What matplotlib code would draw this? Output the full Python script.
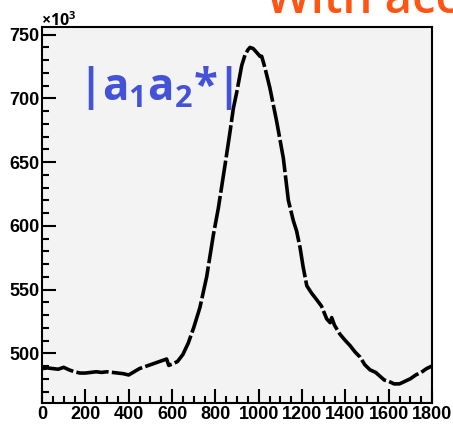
import numpy as np
import matplotlib
matplotlib.use('Agg')
import matplotlib.pyplot as plt
from matplotlib.ticker import MultipleLocator

# curve (x, value in units of 10^3)
x_vals = [0, 25, 50, 75, 100, 125, 150, 175, 200, 225, 250, 275, 300, 325,
          350, 375, 400, 425, 450, 475, 500, 525, 550, 575, 585, 600, 625,
          650, 675, 700, 729, 760, 791, 814, 845, 868, 883, 899, 922, 937,
          950, 960, 975, 991, 1006, 1014, 1029, 1052, 1083, 1114, 1137, 1160,
          1175, 1191, 1205, 1222, 1245, 1268, 1290, 1314, 1330, 1337, 1350,
          1375, 1400, 1422, 1445, 1468, 1490, 1514, 1540, 1560, 1580, 1600,
          1625, 1650, 1675, 1700, 1725, 1750, 1775, 1800]
y_vals = [488, 488.5, 488, 487.5, 489, 487, 485.5, 484.5, 484.5, 485, 485.5,
          485, 485.5, 485, 484.5, 484, 483, 485.5, 488, 489.5, 491, 492.5,
          494, 495.5, 490.5, 491.5, 493.5, 499, 508, 520, 536, 560, 593, 614,
          648, 674, 692, 705, 726, 734, 738, 740, 739, 736, 733, 733, 724,
          708, 682, 653, 620, 604, 596, 583, 568, 553, 547, 542, 537, 527,
          524, 528, 522, 515, 510, 506, 501, 497, 491, 487, 485, 482, 479,
          478, 476, 476, 478, 480, 483, 485, 488, 490]

x_ticks = [0, 200, 400, 600, 800, 1000, 1200, 1400, 1600, 1800]
y_ticks = [500, 550, 600, 650, 700, 750]

plt.rcParams['mathtext.fontset'] = 'custom'
plt.rcParams['mathtext.rm'] = 'Open Sans:bold'

fig = plt.figure(figsize=(4.53, 4.24), dpi=100)
ax = fig.add_axes([42 / 453, 21 / 424, 390 / 453, 376 / 424])
ax.set_facecolor('#f3f3f3')

ax.plot(x_vals, y_vals, color='black', lw=2.6, dashes=(9, 0.9))

ax.set_xlim(0, 1800)
ax.set_ylim(461, 756)
ax.set_xticks(x_ticks)
ax.set_yticks(y_ticks)
ax.xaxis.set_minor_locator(MultipleLocator(50))
ax.yaxis.set_minor_locator(MultipleLocator(10))
ax.tick_params(which='both', direction='in', width=1.5, top=False, right=False)
ax.tick_params(which='major', length=10, pad=2)
ax.tick_params(which='minor', length=5)
for lab in ax.get_xticklabels() + ax.get_yticklabels():
    lab.set_fontfamily('Liberation Sans')
    lab.set_fontweight('bold')
    lab.set_fontsize(13)
for sp in ax.spines.values():
    sp.set_linewidth(1.5)

fig.text(41 / 453, (424 - 26) / 424, r'$\times10^{3}$', fontsize=11.5,
         family='Liberation Sans', va='baseline', ha='left')

fig.text(78 / 453, (424 - 88) / 424, r'|a$_1$a$_2$*|', fontsize=31.5,
         family='Open Sans', weight='bold', color='#4452d8',
         va='center', ha='left')

fig.text(266 / 453, (424 - 13) / 424, 'With acc', fontsize=34,
         family='Open Sans', weight='semibold', color='#ff5514',
         va='baseline', ha='left')

fig.savefig('out.png', dpi=100)
